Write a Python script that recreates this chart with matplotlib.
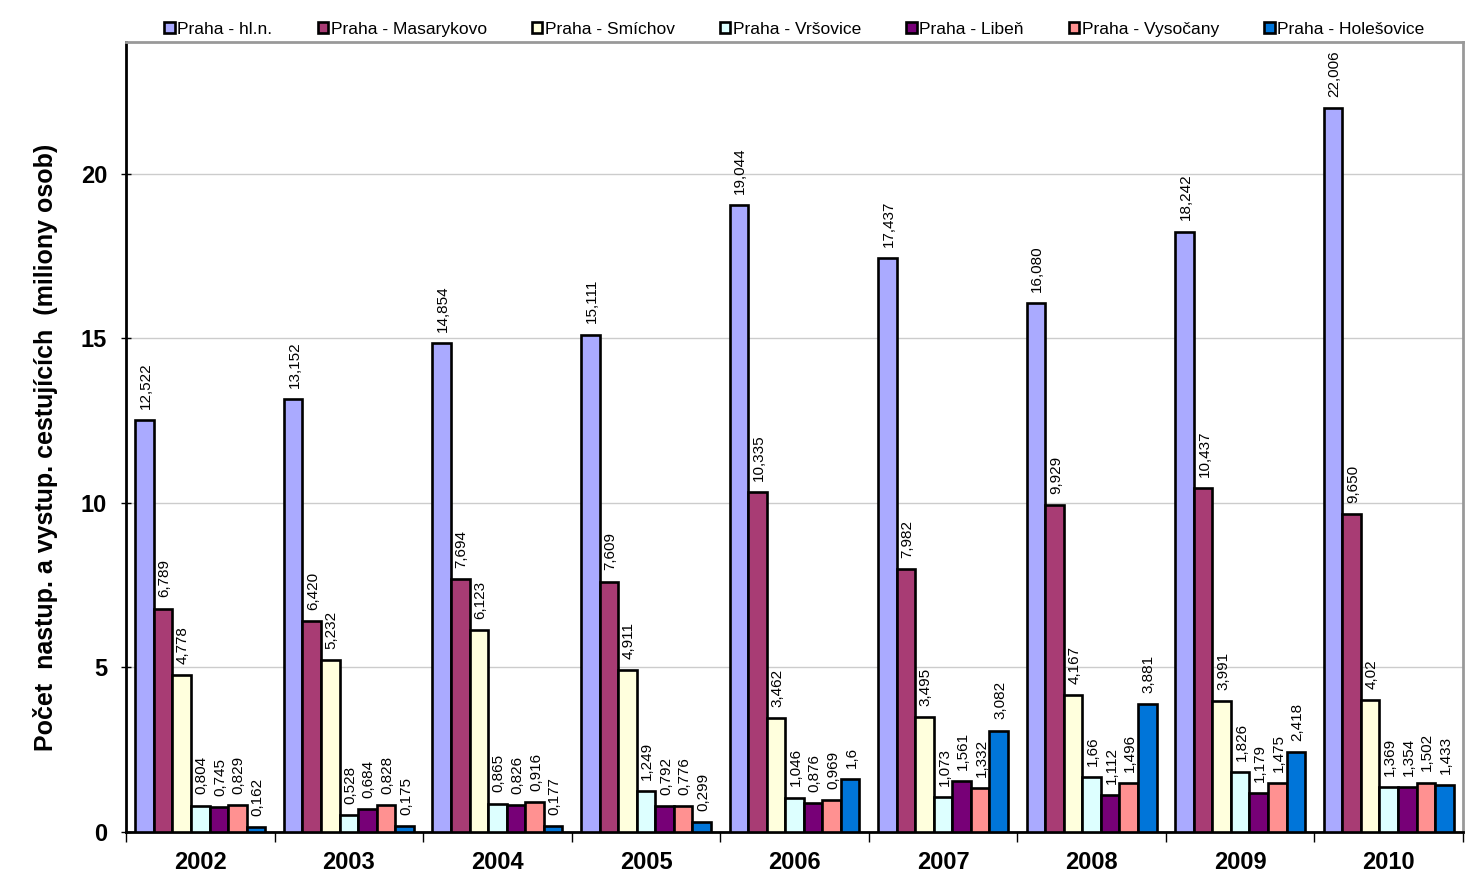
import matplotlib
matplotlib.use("Agg")
import matplotlib.pyplot as plt
import numpy as np

plt.rcParams['font.family'] = ['Liberation Sans', 'DejaVu Sans']

# roky a hodnoty (miliony osob), tak jak jsou popsany v grafu
roky = ["2002", "2003", "2004", "2005", "2006", "2007", "2008", "2009", "2010"]

nazvy = ["Praha - hl.n.", "Praha - Masarykovo", "Praha - Smíchov", "Praha - Vršovice",
         "Praha - Libeň", "Praha - Vysočany", "Praha - Holešovice"]

hl_n = ["12,522", "13,152", "14,854", "15,111", "19,044", "17,437", "16,080", "18,242", "22,006"]
masarykovo = ["6,789", "6,420", "7,694", "7,609", "10,335", "7,982", "9,929", "10,437", "9,650"]
smichov = ["4,778", "5,232", "6,123", "4,911", "3,462", "3,495", "4,167", "3,991", "4,02"]
vrsovice = ["0,804", "0,528", "0,865", "1,249", "1,046", "1,073", "1,66", "1,826", "1,369"]
liben = ["0,745", "0,684", "0,826", "0,792", "0,876", "1,561", "1,112", "1,179", "1,354"]
vysocany = ["0,829", "0,828", "0,916", "0,776", "0,969", "1,332", "1,496", "1,475", "1,502"]
holesovice = ["0,162", "0,175", "0,177", "0,299", "1,6", "3,082", "3,881", "2,418", "1,433"]

serie = [hl_n, masarykovo, smichov, vrsovice, liben, vysocany, holesovice]
barvy = ["#aaaaff", "#a83c74", "#ffffdd", "#ddffff", "#770077", "#ff9191", "#0075d9"]

fig = plt.figure(figsize=(14.83, 8.8), dpi=100)
ax = fig.add_axes([126 / 1483, 48 / 880, (1463 - 126) / 1483, (832 - 42) / 880])

x = np.arange(len(roky))
w = 0.875 / 7

for j, (popisky, nazev, barva) in enumerate(zip(serie, nazvy, barvy)):
    hodnoty = [float(s.replace(",", ".")) for s in popisky]
    pos = x + (j - 3) * w
    ax.bar(pos, hodnoty, width=w, color=barva, edgecolor='black', linewidth=1.9,
           label=nazev, zorder=3)
    for xi, v, t in zip(pos, hodnoty, popisky):
        ax.annotate(t, (xi, v), xytext=(1, 8), textcoords='offset points',
                    rotation=90, ha='center', va='bottom', fontsize=11, zorder=4)

ax.set_xlim(-0.5, len(roky) - 0.5)
ax.set_ylim(0, 24)
ax.set_yticks([0, 5, 10, 15, 20])
ax.grid(axis='y', color='#cccccc', linewidth=1, zorder=0)

ax.set_xticks(x)
ax.set_xticklabels(roky, fontsize=17, fontweight='bold')
ax.set_xticks(np.arange(-0.5, len(roky)), minor=True)
ax.tick_params(axis='x', which='major', length=0, pad=14)
ax.tick_params(axis='x', which='minor', length=7, width=1, direction='out')
ax.tick_params(axis='y', length=7, width=1, direction='inout', labelsize=17, pad=10)
for lab in ax.get_yticklabels():
    lab.set_fontweight('bold')

ax.spines['left'].set_linewidth(2)
ax.spines['bottom'].set_linewidth(2)
ax.spines['top'].set_color('#999999')
ax.spines['right'].set_color('#999999')
ax.spines['top'].set_linewidth(2)
ax.spines['right'].set_linewidth(2)

ax.set_ylabel("Počet  nastup. a vystup. cestujících  (miliony osob)", fontsize=18,
              fontweight='bold')
ax.yaxis.set_label_coords(-0.051, 0.487)

ax.legend(loc='lower center', bbox_to_anchor=(0.5, 1.0), ncol=7, frameon=False,
          fontsize=12.5, handlelength=0.6, handleheight=0.6, handletextpad=0.15,
          columnspacing=2.6, borderaxespad=-0.1)

fig.savefig("out.png", dpi=100)
